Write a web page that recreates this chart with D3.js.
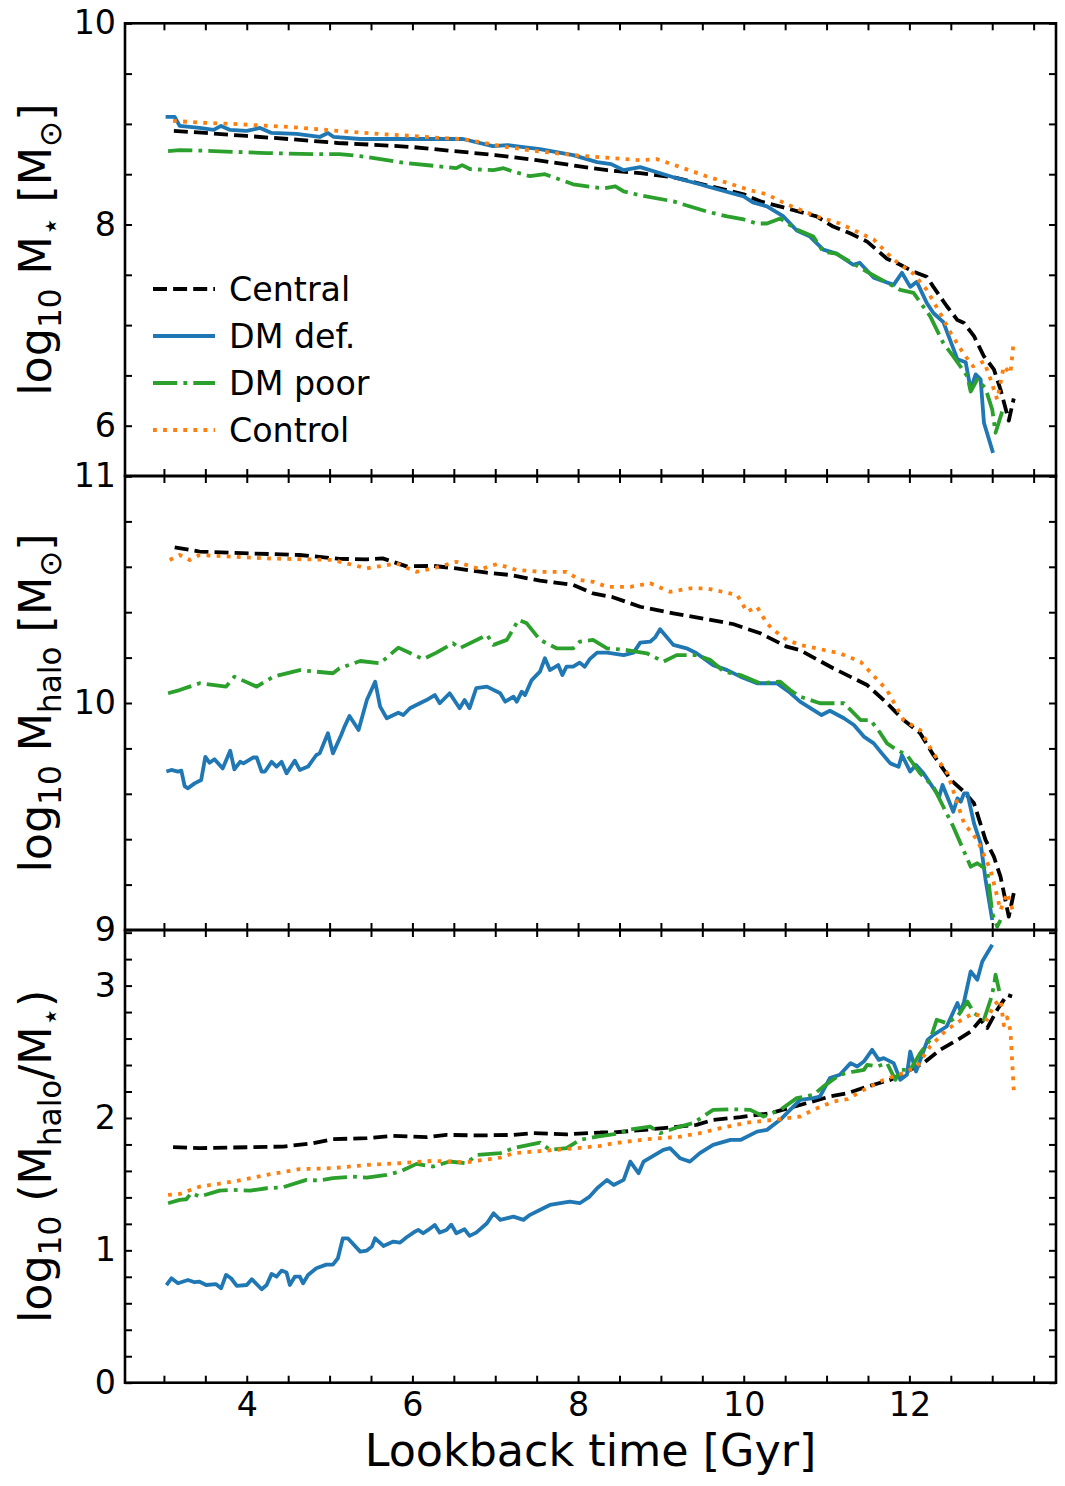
<!DOCTYPE html>
<html>
<head>
<meta charset="utf-8">
<script src="https://cdn.jsdelivr.net/npm/d3@7"></script>
<style>
  html, body { margin: 0; padding: 0; background: #fff; }
  svg { display: block; font-family: "DejaVu Sans", sans-serif; }
</style>
</head>
<body>
<svg id="chart" width="1065" height="1486"></svg>
<script>
// ---------------- data (lookback time [Gyr], value) ----------------
const seriesNames = ["Central", "DM def.", "DM poor", "Control"];
const seriesColors = ["#000000", "#1f77b4", "#2ca02c", "#ff7f0e"];

// Panel 1 : log10 M_star
const mStarCentral = [[3.12,8.93],[3.5,8.91],[4.0,8.88],[4.5,8.85],[5.1,8.81],[5.6,8.79],[6.0,8.77],[6.5,8.73],[7.0,8.69],[7.5,8.64],[8.0,8.58],[8.35,8.54],[8.75,8.51],[9.15,8.47],[9.55,8.39],[10.0,8.30],[10.2,8.23],[10.48,8.17],[10.88,8.08],[11.08,7.98],[11.29,7.91],[11.49,7.83],[11.73,7.66],[11.89,7.6],[12.05,7.53],[12.21,7.48],[12.29,7.38],[12.45,7.19],[12.58,7.05],[12.66,7.02],[12.78,6.89],[12.9,6.69],[13.02,6.56],[13.1,6.36],[13.2,6.05],[13.26,6.27]];
const mStarDef = [[3.02,9.07],[3.13,9.07],[3.19,8.98],[3.43,8.96],[3.6,8.94],[3.69,8.98],[3.8,8.94],[4.0,8.93],[4.16,8.96],[4.3,8.91],[4.6,8.90],[4.88,8.87],[4.98,8.91],[5.05,8.87],[5.37,8.85],[6.0,8.85],[6.61,8.85],[6.97,8.78],[7.15,8.79],[7.34,8.77],[7.54,8.75],[7.94,8.69],[8.23,8.62],[8.4,8.60],[8.55,8.54],[8.75,8.57],[9.15,8.47],[9.47,8.40],[9.55,8.38],[10.0,8.28],[10.11,8.22],[10.28,8.18],[10.48,8.08],[10.64,7.94],[10.8,7.88],[10.96,7.75],[11.12,7.71],[11.32,7.6],[11.4,7.62],[11.57,7.47],[11.81,7.40],[11.91,7.52],[12.01,7.38],[12.09,7.43],[12.21,7.22],[12.29,7.12],[12.41,7.03],[12.58,6.66],[12.68,6.63],[12.74,6.36],[12.8,6.51],[12.86,6.46],[12.9,6.03],[13.01,5.73]];
const mStarPoor = [[3.05,8.73],[3.19,8.74],[3.6,8.73],[4.24,8.71],[4.8,8.70],[5.12,8.70],[5.37,8.68],[5.93,8.61],[6.3,8.58],[6.53,8.56],[6.6,8.59],[6.7,8.55],[6.98,8.54],[7.1,8.56],[7.2,8.53],[7.42,8.48],[7.6,8.50],[7.94,8.40],[8.2,8.37],[8.31,8.36],[8.45,8.38],[8.55,8.33],[8.75,8.29],[9.15,8.23],[9.55,8.13],[9.8,8.08],[10.0,8.05],[10.16,8.01],[10.28,8.01],[10.44,8.06],[10.64,7.95],[10.84,7.88],[10.96,7.73],[11.12,7.71],[11.24,7.65],[11.49,7.53],[11.73,7.42],[11.89,7.35],[12.05,7.32],[12.25,7.09],[12.41,6.82],[12.53,6.69],[12.7,6.49],[12.74,6.34],[12.82,6.46],[12.92,6.37],[13.0,6.16],[13.04,5.93],[13.12,6.14]];
const mStarControl = [[3.11,9.03],[3.5,9.01],[3.83,9.0],[4.5,8.97],[5.12,8.93],[5.6,8.90],[6.0,8.88],[6.33,8.86],[6.61,8.85],[7.14,8.77],[7.5,8.73],[7.94,8.69],[8.4,8.66],[8.75,8.64],[8.95,8.65],[9.2,8.58],[9.55,8.48],[10.08,8.34],[10.28,8.30],[10.52,8.20],[10.88,8.08],[11.16,8.01],[11.57,7.85],[11.81,7.65],[12.05,7.51],[12.21,7.35],[12.37,7.12],[12.5,6.92],[12.65,6.72],[12.77,6.59],[12.9,6.64],[12.98,6.46],[13.06,6.26],[13.14,6.59],[13.22,6.52],[13.26,6.84]];

// Panel 2 : log10 M_halo
const mHaloCentral = [[3.13,10.686],[3.43,10.667],[3.95,10.66],[4.64,10.652],[5.12,10.635],[5.45,10.633],[5.64,10.637],[5.93,10.602],[6.25,10.604],[6.53,10.593],[6.9,10.574],[7.18,10.564],[7.54,10.539],[7.94,10.52],[8.18,10.483],[8.42,10.466],[8.75,10.424],[9.15,10.395],[9.55,10.369],[9.87,10.348],[10.2,10.307],[10.52,10.248],[10.68,10.233],[11.08,10.153],[11.49,10.079],[11.73,9.999],[11.93,9.925],[12.13,9.867],[12.29,9.771],[12.5,9.661],[12.66,9.609],[12.78,9.558],[12.92,9.396],[13.02,9.323],[13.1,9.235],[13.2,9.059],[13.26,9.162]];
const mHaloDef = [[3.03,9.698],[3.09,9.705],[3.17,9.698],[3.21,9.702],[3.25,9.634],[3.29,9.624],[3.37,9.646],[3.45,9.661],[3.5,9.763],[3.55,9.737],[3.61,9.752],[3.71,9.712],[3.8,9.79],[3.85,9.708],[3.92,9.741],[3.96,9.734],[4.08,9.76],[4.12,9.76],[4.18,9.698],[4.22,9.698],[4.3,9.741],[4.36,9.72],[4.42,9.741],[4.48,9.69],[4.58,9.746],[4.64,9.705],[4.74,9.72],[4.84,9.771],[4.88,9.778],[4.98,9.867],[5.04,9.778],[5.14,9.859],[5.18,9.896],[5.24,9.943],[5.35,9.881],[5.45,10.013],[5.55,10.094],[5.61,9.984],[5.69,9.933],[5.83,9.957],[5.89,9.947],[5.97,9.977],[6.09,9.999],[6.17,10.013],[6.27,10.035],[6.33,9.999],[6.45,10.043],[6.57,9.977],[6.63,10.013],[6.69,9.977],[6.77,10.065],[6.9,10.072],[7.06,10.043],[7.12,10.006],[7.22,10.028],[7.26,10.006],[7.32,10.05],[7.36,10.035],[7.44,10.101],[7.54,10.138],[7.6,10.197],[7.66,10.145],[7.76,10.167],[7.81,10.123],[7.86,10.16],[7.94,10.16],[8.02,10.178],[8.08,10.16],[8.14,10.193],[8.23,10.222],[8.35,10.222],[8.55,10.211],[8.67,10.222],[8.75,10.266],[8.87,10.27],[8.93,10.289],[8.99,10.325],[9.15,10.256],[9.31,10.241],[9.43,10.219],[9.63,10.167],[9.8,10.145],[9.96,10.116],[10.16,10.087],[10.4,10.087],[10.56,10.045],[10.68,10.006],[10.94,9.947],[11.04,9.966],[11.21,9.933],[11.33,9.903],[11.45,9.852],[11.57,9.822],[11.65,9.786],[11.77,9.734],[11.87,9.719],[11.91,9.771],[12.01,9.698],[12.08,9.727],[12.17,9.69],[12.36,9.587],[12.4,9.639],[12.53,9.521],[12.58,9.58],[12.62,9.565],[12.66,9.602],[12.7,9.602],[12.78,9.47],[12.86,9.382],[12.92,9.22],[13.0,9.044]];
const mHaloPoor = [[3.05,10.043],[3.19,10.057],[3.31,10.072],[3.43,10.087],[3.75,10.072],[3.85,10.116],[4.12,10.072],[4.32,10.116],[4.64,10.145],[5.04,10.131],[5.12,10.153],[5.37,10.185],[5.61,10.175],[5.83,10.244],[6.13,10.193],[6.29,10.222],[6.49,10.263],[6.57,10.241],[6.9,10.3],[6.98,10.256],[7.14,10.278],[7.28,10.366],[7.38,10.351],[7.54,10.278],[7.74,10.241],[7.94,10.241],[8.02,10.27],[8.18,10.278],[8.35,10.241],[8.59,10.233],[8.83,10.219],[9.03,10.182],[9.19,10.211],[9.43,10.211],[9.6,10.189],[9.76,10.138],[9.96,10.123],[10.2,10.087],[10.44,10.094],[10.56,10.057],[10.68,10.028],[10.92,9.999],[11.21,9.999],[11.41,9.925],[11.53,9.925],[11.65,9.867],[11.73,9.822],[11.85,9.793],[11.97,9.771],[12.13,9.69],[12.29,9.631],[12.41,9.543],[12.53,9.455],[12.74,9.279],[12.82,9.294],[12.94,9.264],[13.0,9.074],[13.06,9.015],[13.1,9.044]];
const mHaloControl = [[3.07,10.63],[3.19,10.652],[3.31,10.63],[3.43,10.652],[4.24,10.637],[5.04,10.63],[5.45,10.593],[5.81,10.615],[6.05,10.578],[6.25,10.593],[6.53,10.622],[6.82,10.589],[7.02,10.612],[7.26,10.586],[7.54,10.578],[7.86,10.578],[8.02,10.542],[8.18,10.534],[8.35,10.512],[8.63,10.512],[8.87,10.527],[9.11,10.49],[9.35,10.505],[9.55,10.505],[9.92,10.476],[10.04,10.402],[10.16,10.424],[10.28,10.351],[10.36,10.322],[10.52,10.278],[10.68,10.256],[11.16,10.219],[11.41,10.182],[11.73,10.057],[11.93,9.925],[12.13,9.881],[12.29,9.778],[12.46,9.69],[12.66,9.47],[12.82,9.396],[12.98,9.264],[13.1,9.088],[13.18,9.162],[13.26,9.074]];

// Panel 3 : log10 (M_halo / M_star)
const ratioCentral = [[3.11,1.779],[3.43,1.772],[4.04,1.779],[4.44,1.784],[4.8,1.809],[5.04,1.84],[5.45,1.847],[5.77,1.865],[6.17,1.855],[6.41,1.872],[6.82,1.868],[7.22,1.872],[7.46,1.885],[7.86,1.876],[8.27,1.89],[8.43,1.89],[9.03,1.923],[9.43,1.948],[9.63,1.986],[9.96,2.006],[10.32,2.036],[10.64,2.091],[11.04,2.162],[11.25,2.187],[11.49,2.237],[11.77,2.288],[11.97,2.351],[12.17,2.414],[12.37,2.515],[12.58,2.59],[12.74,2.653],[12.86,2.742],[12.94,2.679],[13.06,2.817],[13.18,2.93],[13.24,2.918]];
const ratioDef = [[3.03,0.738],[3.09,0.789],[3.17,0.751],[3.29,0.776],[3.37,0.759],[3.43,0.763],[3.51,0.738],[3.63,0.744],[3.69,0.713],[3.75,0.814],[3.81,0.789],[3.88,0.731],[4.0,0.738],[4.06,0.782],[4.18,0.706],[4.24,0.738],[4.3,0.822],[4.36,0.801],[4.42,0.847],[4.48,0.832],[4.52,0.738],[4.58,0.801],[4.64,0.801],[4.68,0.751],[4.74,0.814],[4.84,0.865],[4.96,0.892],[5.04,0.892],[5.1,0.94],[5.16,1.091],[5.22,1.091],[5.37,0.99],[5.45,0.998],[5.51,1.028],[5.55,1.091],[5.65,1.033],[5.77,1.066],[5.85,1.058],[5.93,1.099],[6.03,1.141],[6.07,1.154],[6.13,1.129],[6.19,1.154],[6.27,1.192],[6.33,1.134],[6.41,1.154],[6.47,1.194],[6.53,1.129],[6.63,1.159],[6.69,1.109],[6.77,1.134],[6.9,1.205],[6.98,1.28],[7.06,1.23],[7.22,1.255],[7.34,1.23],[7.42,1.268],[7.58,1.318],[7.66,1.343],[7.9,1.368],[8.02,1.356],[8.14,1.406],[8.23,1.469],[8.35,1.532],[8.43,1.494],[8.55,1.532],[8.63,1.67],[8.73,1.583],[8.79,1.67],[9.03,1.759],[9.11,1.772],[9.23,1.696],[9.35,1.67],[9.47,1.734],[9.63,1.797],[9.84,1.834],[9.96,1.834],[10.16,1.897],[10.28,1.91],[10.44,1.986],[10.56,2.061],[10.68,2.137],[10.84,2.15],[10.92,2.162],[11.04,2.301],[11.16,2.326],[11.29,2.414],[11.37,2.389],[11.45,2.426],[11.55,2.515],[11.63,2.439],[11.69,2.452],[11.81,2.414],[11.89,2.288],[11.97,2.326],[12.01,2.502],[12.08,2.351],[12.22,2.59],[12.29,2.628],[12.45,2.691],[12.58,2.868],[12.62,2.804],[12.66,2.88],[12.74,3.107],[12.82,3.044],[12.88,3.182],[13.0,3.308]];
const ratioPoor = [[3.05,1.356],[3.19,1.381],[3.27,1.386],[3.33,1.432],[3.43,1.406],[3.67,1.451],[3.83,1.457],[4.04,1.451],[4.24,1.469],[4.44,1.477],[4.72,1.532],[4.88,1.527],[5.04,1.545],[5.28,1.557],[5.45,1.55],[5.69,1.57],[5.85,1.595],[6.05,1.653],[6.25,1.633],[6.45,1.671],[6.65,1.658],[6.78,1.721],[7.06,1.734],[7.22,1.772],[7.54,1.814],[7.66,1.759],[7.86,1.772],[8.02,1.834],[8.23,1.859],[8.51,1.885],[8.59,1.91],[8.87,1.935],[8.99,1.885],[9.23,1.935],[9.39,1.961],[9.63,2.061],[9.87,2.066],[10.08,2.061],[10.24,2.011],[10.44,2.061],[10.64,2.15],[10.84,2.175],[10.96,2.237],[11.16,2.326],[11.33,2.351],[11.45,2.363],[11.49,2.401],[11.61,2.389],[11.73,2.414],[11.83,2.288],[11.89,2.363],[12.01,2.363],[12.13,2.49],[12.25,2.59],[12.33,2.742],[12.45,2.716],[12.58,2.766],[12.7,2.88],[12.78,2.792],[12.9,2.742],[12.98,2.893],[13.02,2.993],[13.04,3.082],[13.1,2.918]];
const ratioControl = [[3.05,1.419],[3.19,1.426],[3.43,1.481],[3.83,1.519],[4.24,1.57],[4.64,1.613],[5.04,1.621],[5.45,1.645],[5.85,1.658],[6.25,1.676],[6.65,1.665],[7.06,1.7],[7.22,1.734],[7.46,1.746],[7.86,1.765],[8.27,1.789],[8.43,1.809],[8.83,1.84],[9.23,1.859],[9.47,1.885],[9.72,1.923],[10.04,1.965],[10.44,1.991],[10.68,2.011],[10.84,2.061],[11.08,2.124],[11.25,2.142],[11.45,2.212],[11.69,2.288],[11.93,2.339],[12.09,2.389],[12.25,2.54],[12.45,2.666],[12.66,2.754],[12.78,2.792],[12.94,2.742],[13.02,2.855],[13.1,2.893],[13.14,2.7],[13.18,2.76],[13.22,2.66],[13.26,2.21]];

// axis ticks
const xMajorTicks = [4, 6, 8, 10, 12];
const yMajorTicks1 = [6, 8, 10];
const yMajorTicks2 = [9, 10, 11];
const yMajorTicks3 = [0, 1, 2, 3];

// ---------------- layout ----------------
const svg = d3.select("#chart");
const left = 125, right = 1056;
const x = d3.scaleLinear().domain([2.53, 13.77]).range([left, right]);

const lineW = 3.8;
const dashes = ["14,6.1", null, "24.3,6.1,3.8,6.1", "3.8,6.3"];
const tickFont = 33.3;
const labelFont = 44.4;

const panels = [
  { top: 23.3, bottom: 476, domain: [5.5, 10], minor: d3.range(0, 9.0001, 1).map(i => 5.5 + i * 0.5), major: yMajorTicks1,
    data: [mStarCentral, mStarDef, mStarPoor, mStarControl], label: "star" },
  { top: 476, bottom: 930, domain: [9, 11], minor: d3.range(0, 10.0001, 1).map(i => 9 + i * 0.2), major: yMajorTicks2,
    data: [mHaloCentral, mHaloDef, mHaloPoor, mHaloControl], label: "halo" },
  { top: 930, bottom: 1382.7, domain: [0, 3.42], minor: d3.range(0, 17.0001, 1).map(i => i * 0.2), major: yMajorTicks3,
    data: [ratioCentral, ratioDef, ratioPoor, ratioControl], label: "ratio" }
];

const xMinor = d3.range(0, 21.0001, 1).map(i => 3 + i * 0.5);
const isMajor = (arr, d) => arr.some(m => Math.abs(m - d) < 1e-6);

panels.forEach((p, pi) => {
  const y = d3.scaleLinear().domain(p.domain).range([p.bottom, p.top]);
  const g = svg.append("g");
  const clipId = "clip" + pi;
  svg.append("clipPath").attr("id", clipId).append("rect")
    .attr("x", left).attr("y", p.top).attr("width", right - left).attr("height", p.bottom - p.top);

  // lines
  const line = d3.line().x(d => x(d[0])).y(d => y(d[1]));
  p.data.forEach((s, si) => {
    g.append("path").datum(s)
      .attr("d", line)
      .attr("fill", "none")
      .attr("stroke", seriesColors[si])
      .attr("stroke-width", lineW)
      .attr("stroke-linejoin", "round")
      .attr("stroke-linecap", "butt")
      .attr("stroke-dasharray", dashes[si])
      .attr("clip-path", `url(#${clipId})`);
  });

  // y axes
  const yl = svg.append("g").attr("transform", `translate(${left},0)`)
    .call(d3.axisLeft(y).tickValues(p.minor).tickSizeInner(-7).tickSizeOuter(0).tickPadding(9)
      .tickFormat(d => isMajor(p.major, d) ? d3.format("d")(Math.round(d)) : ""));
  const yr = svg.append("g").attr("transform", `translate(${right},0)`)
    .call(d3.axisRight(y).tickValues(p.minor).tickSizeInner(-7).tickSizeOuter(0).tickFormat(""));
  // x axes
  const xt = svg.append("g").attr("transform", `translate(0,${p.top})`)
    .call(d3.axisTop(x).tickValues(xMinor).tickSizeInner(-7).tickSizeOuter(0).tickFormat(""));
  const xb = svg.append("g").attr("transform", `translate(0,${p.bottom})`)
    .call(d3.axisBottom(x).tickValues(xMinor).tickSizeInner(-7).tickSizeOuter(0).tickPadding(10)
      .tickFormat(d => (pi === 2 && isMajor(xMajorTicks, d)) ? d3.format("d")(d) : ""));
  [yl, yr, xt, xb].forEach(a => {
    a.select(".domain").remove();
    a.selectAll(".tick line").attr("stroke", "#000").attr("stroke-width", 2);
    a.selectAll(".tick text").attr("font-size", tickFont).attr("fill", "#000")
      .attr("font-family", "DejaVu Sans, sans-serif");
  });

  // frame
  svg.append("rect").attr("x", left).attr("y", p.top).attr("width", right - left).attr("height", p.bottom - p.top)
    .attr("fill", "none").attr("stroke", "#000").attr("stroke-width", 2.6);

  // y label
  const cy = (p.top + p.bottom) / 2;
  const t = svg.append("text")
    .attr("transform", `translate(51,${cy}) rotate(-90)`)
    .attr("text-anchor", "middle")
    .attr("font-size", labelFont)
    .attr("fill", "#000");
  const sub = (txt) => { t.append("tspan").attr("font-size", labelFont * 0.7).attr("dy", labelFont * 0.22).text(txt); };
  const up = (txt) => { t.append("tspan").attr("dy", -labelFont * 0.22).text(txt); };
  t.append("tspan").text("log");
  sub("10");
  if (p.label === "star") {
    up(" M"); sub("\u22C6"); up(" [M"); sub("\u2299"); up("]");
  } else if (p.label === "halo") {
    up(" M"); sub("halo"); up(" [M"); sub("\u2299"); up("]");
  } else {
    up(" (M"); sub("halo"); up("/M"); sub("\u22C6"); up(")");
  }
});

// x label
svg.append("text")
  .attr("x", (left + right) / 2).attr("y", 1466)
  .attr("text-anchor", "middle")
  .attr("font-size", labelFont)
  .attr("fill", "#000")
  .text("Lookback time [Gyr]");

// legend
const legendY = [289, 336, 383, 430];
const lg = svg.append("g");
seriesNames.forEach((name, i) => {
  lg.append("line")
    .attr("x1", 153).attr("x2", 215)
    .attr("y1", legendY[i]).attr("y2", legendY[i])
    .attr("stroke", seriesColors[i]).attr("stroke-width", lineW)
    .attr("stroke-dasharray", dashes[i]);
  lg.append("text")
    .attr("x", 229).attr("y", legendY[i] + 12)
    .attr("font-size", tickFont).attr("fill", "#000")
    .text(name);
});
</script>
</body>
</html>
